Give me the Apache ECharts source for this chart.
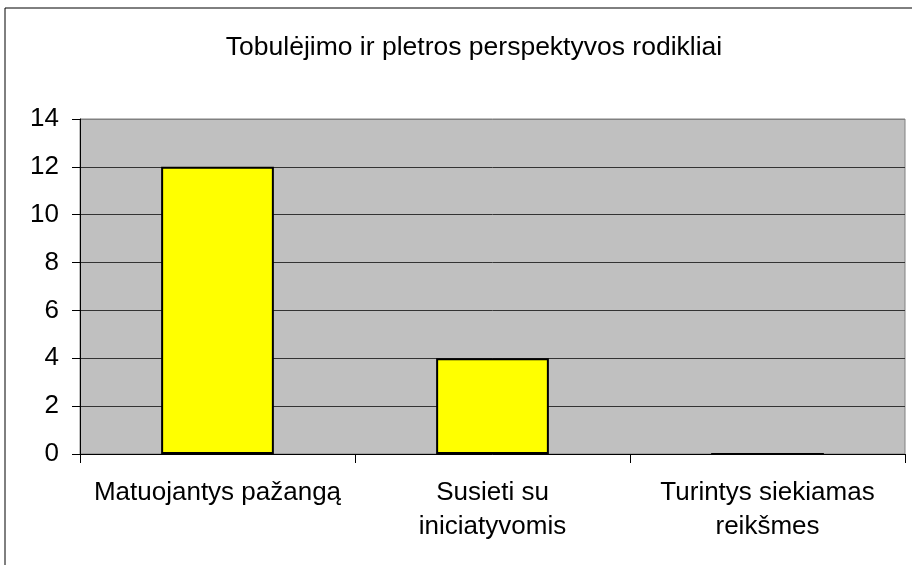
<!DOCTYPE html>
<html>
<head>
<meta charset="utf-8">
<script src="https://cdn.jsdelivr.net/npm/echarts@6/dist/echarts.min.js"></script>
<style>
  html,body{margin:0;padding:0;background:#fff;}
  #chart{width:912px;height:565px;}
</style>
</head>
<body>
<div id="chart"></div>
<script>
  // ===== Data =====
  const categories = ['Matuojantys pažangą', 'Susieti su\niniciatyvomis', 'Turintys siekiamas\nreikšmes'];
  const values = [12, 4, 0];
  const yTicks = [0, 2, 4, 6, 8, 10, 12, 14];

  const FONT = '"Liberation Sans", Arial, sans-serif';
  const chart = echarts.init(document.getElementById('chart'), null, {renderer:'canvas'});

  // split line colours: dark inside the plot, grey at the top (border)
  const splitColors = yTicks.map((v,i)=> i===yTicks.length-1 ? '#808080' : '#333333');

  chart.setOption({
    backgroundColor:'#ffffff',
    animation:false,
    graphic:[{
      type:'rect', z:-10,
      shape:{x:5, y:8, width:1000, height:1000},
      style:{fill:'#ffffff', stroke:'#000000', lineWidth:1}
    }],
    title:{
      text:'Tobulėjimo ir pletros perspektyvos rodikliai',
      left:469, textAlign:'center', top:29,
      textStyle:{fontFamily:FONT, fontSize:26.5, fontWeight:'normal', color:'#000'}
    },
    grid:{
      left:80, right:7, top:119, bottom:111,
      show:true, backgroundColor:'#C0C0C0', borderColor:'#808080', borderWidth:1
    },
    xAxis:{
      type:'category', data:categories,
      axisLine:{lineStyle:{color:'#000', width:1}},
      axisTick:{show:true, length:9, lineStyle:{color:'#000'}},
      axisLabel:{fontFamily:FONT, fontSize:26, color:'#000', margin:22, lineHeight:34,
        verticalAlign:'top', interval:0}
    },
    yAxis:{
      type:'value', min:0, max:14, interval:2,
      axisLine:{show:true, lineStyle:{color:'#000', width:1}},
      axisTick:{show:true, length:8, lineStyle:{color:'#000'}},
      axisLabel:{fontFamily:FONT, fontSize:26, color:'#000', margin:21},
      splitLine:{show:true, lineStyle:{color:splitColors, width:1}}
    },
    series:[{
      type:'bar', data:values, barWidth:'41%',
      itemStyle:{color:'#FFFF00', borderColor:'#000', borderWidth:2}
    }]
  });
</script>
</body>
</html>
